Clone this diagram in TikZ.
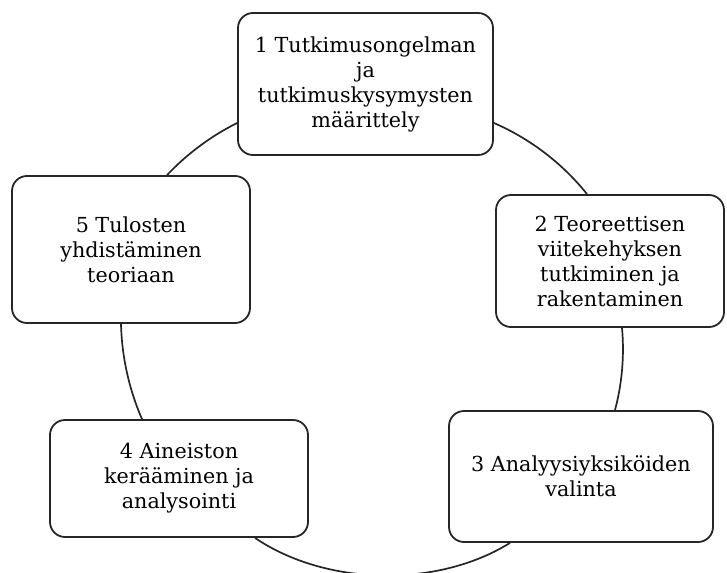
\documentclass[tikz,border=0pt]{standalone}
\usepackage{fontspec}
\setmainfont{DejaVu Serif}
\begin{document}
\begin{tikzpicture}[x=1pt,y=-1pt,
  stage/.style={draw=black!85, line width=1.8pt, rounded corners=15pt, fill=white,
    align=center, inner sep=0pt, font=\fontsize{20.7}{25}\selectfont},
  ring/.style={draw=black!85, line width=1.7pt, looseness=0.86}]
\useasboundingbox (0,0) rectangle (727,572);

% the five stages of the cycle
\node[stage, minimum width=255pt, minimum height=142pt] (s1) at (365.5,84)
  {1 Tutkimusongelman\\ja\\tutkimuskysymysten\\määrittely};
\node[stage, minimum width=228pt, minimum height=132pt] (s2) at (610,261)
  {2 Teoreettisen\\viitekehyksen\\tutkiminen ja\\rakentaminen};
\node[stage, minimum width=264pt, minimum height=131pt] (s3) at (581,476.5)
  {3 Analyysiyksiköiden\\valinta};
\node[stage, minimum width=258pt, minimum height=117pt] (s4) at (179,478.5)
  {4 Aineiston\\kerääminen ja\\analysointi};
\node[stage, minimum width=238pt, minimum height=147pt] (s5) at (131,249.5)
  {5 Tulosten\\yhdistäminen\\teoriaan};

% circular arcs joining consecutive stages
\draw[ring] ([yshift=-39pt]s1.east) to[bend left=14] ([xshift=-23pt]s2.north);
\draw[ring] ([xshift=12pt]s2.south) to[bend left=10] ([xshift=34pt]s3.north);
\draw[ring] ([xshift=-71pt]s3.south) to[bend left=33] ([xshift=76pt]s4.south);
\draw[ring] ([xshift=-37pt]s4.north) to[bend left=11] ([xshift=-10pt]s5.south);
\draw[ring] ([xshift=36pt]s5.north) to[bend left=10] ([yshift=-39pt]s1.west);
\end{tikzpicture}
\end{document}
